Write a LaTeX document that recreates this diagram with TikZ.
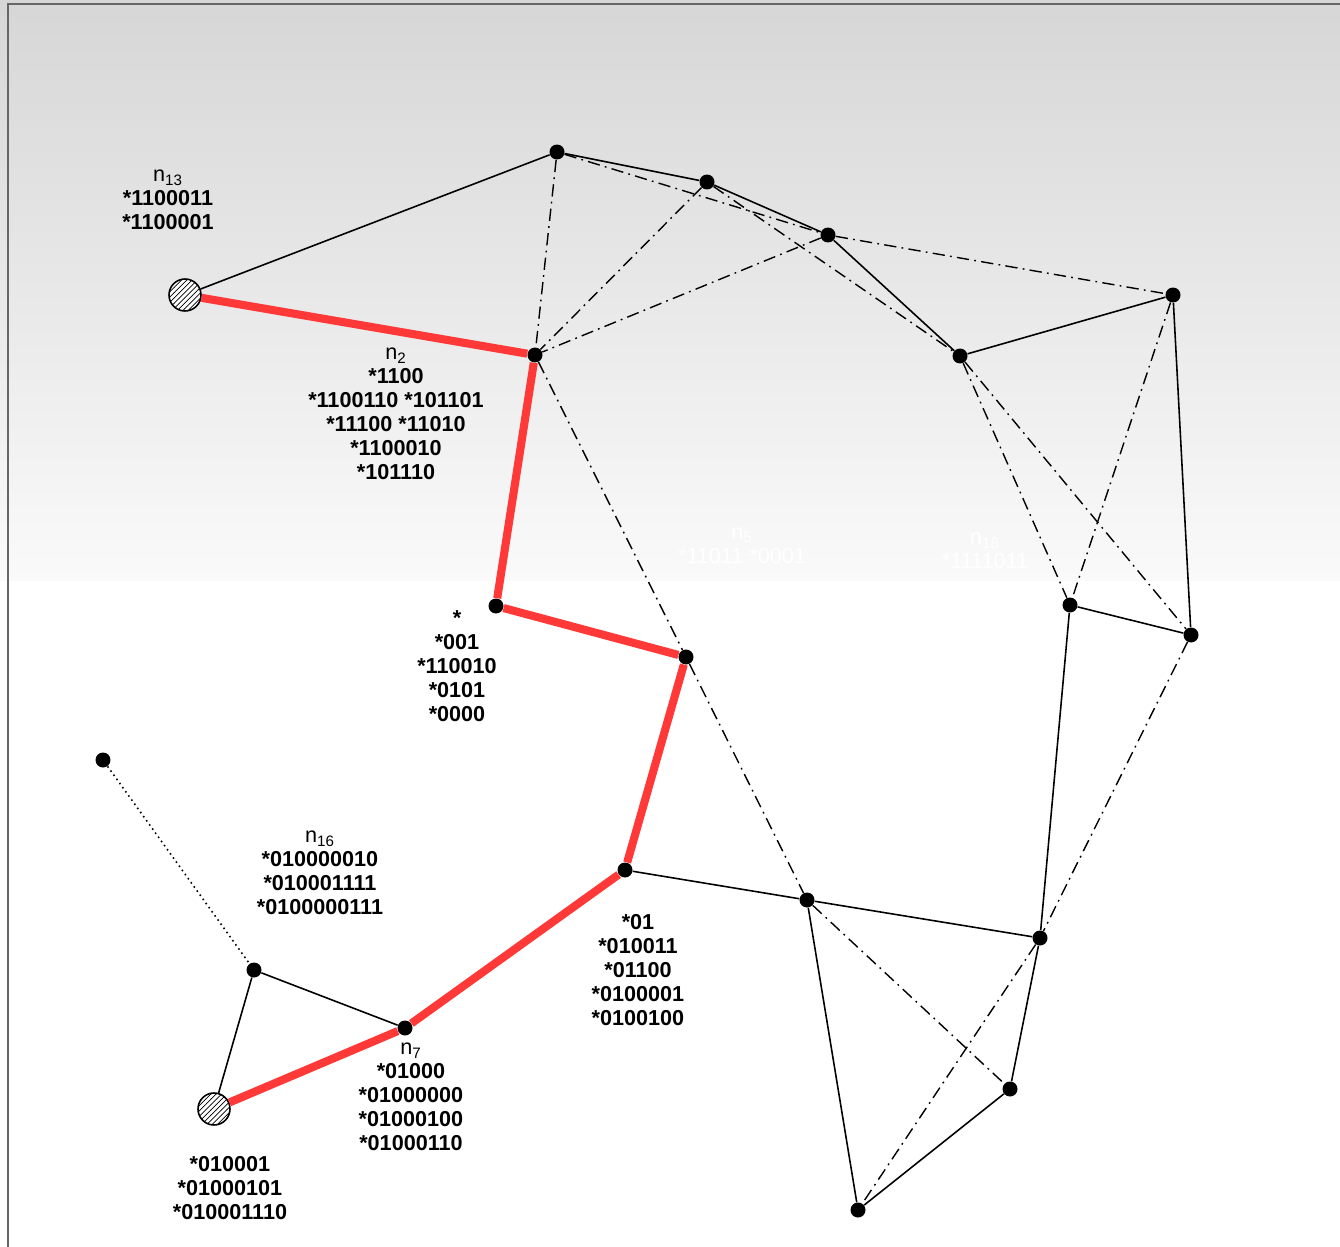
\documentclass[tikz,border=0pt]{standalone}
\usepackage{fontspec}
\setmainfont{Liberation Sans}
\usetikzlibrary{patterns}
\definecolor{routered}{RGB}{255,56,56}
\tikzstyle{vertex} = [circle, fill=black, inner sep=0pt, minimum size=0.30cm]
\tikzstyle{root} = [circle, draw, line width=0.9pt, preaction={fill=white}, pattern=north east lines, inner sep=0pt, minimum size=0.64cm]
\tikzstyle{edge} = [draw, line width=0.9pt]
\tikzstyle{link} = [draw, line width=0.8pt, dash pattern=on 7pt off 3pt on 1pt off 3pt]
\tikzstyle{route} = [draw, line width=4.6pt, color=routered]
\tikzstyle{tag} = [align=center, inner sep=0pt, font=\fontsize{12.3}{13.6}\selectfont\bfseries]
\newcommand{\nname}[1]{\textmd{n}\textsubscript{\textmd{#1}}}

\begin{document}
\begin{tikzpicture}[x=0.02cm, y=-0.02cm]
	\useasboundingbox (0,0) rectangle (1340,1247);
	% background and frame
	\shade[top color=black!16, bottom color=black!2] (0,0) rectangle (1340,580);
	\draw[black!60, line width=1.6pt] (8,1247) |- (1340,4);

	% vertices
	\node[root] (n13) at (185,295) {};
	\node[vertex] (a) at (557,152) {};
	\node[vertex] (b) at (707,182) {};
	\node[vertex] (c) at (828,235) {};
	\node[vertex] (d) at (1173,295) {};
	\node[vertex] (e) at (960,356) {};
	\node[vertex] (n2) at (535,355) {};
	\node[vertex] (f) at (496,606) {};
	\node[vertex] (g) at (686,657) {};
	\node[vertex] (h) at (1070,605) {};
	\node[vertex] (i) at (1191,635) {};
	\node[vertex] (j) at (625,870) {};
	\node[vertex] (k) at (807,900) {};
	\node[vertex] (l) at (1040,938) {};
	\node[vertex] (m) at (1010,1089) {};
	\node[vertex] (o) at (858,1210) {};
	\node[vertex] (n7) at (405,1028) {};
	\node[vertex] (n16) at (254,970) {};
	\node[vertex] (p) at (103,760) {};
	\node[root] (dst) at (214,1109) {};

	% solid links
	\path[edge] (a) -- (n13);
	\path[edge] (a) -- (b);
	\path[edge] (b) -- (c);
	\path[edge] (c) -- (e);
	\path[edge] (e) -- (d);
	\path[edge] (d) -- (i);
	\path[edge] (h) -- (i);
	\path[edge] (h) -- (l);
	\path[edge] (j) -- (k);
	\path[edge] (k) -- (l);
	\path[edge] (k) -- (o);
	\path[edge] (l) -- (m);
	\path[edge] (m) -- (o);
	\path[edge] (n16) -- (n7);
	\path[edge] (n16) -- (dst);
	\path[draw, line width=0.9pt, dotted] (p) -- (n16);

	% dash-dotted links
	\path[link] (a) -- (n2);
	\path[link] (a) -- (c);
	\path[link] (b) -- (n2);
	\path[link] (b) -- (e);
	\path[link] (c) -- (n2);
	\path[link] (c) -- (d);
	\path[link] (n2) -- (g);
	\path[link] (g) -- (k);
	\path[link] (d) -- (h);
	\path[link] (e) -- (h);
	\path[link] (e) -- (i);
	\path[link] (i) -- (l);
	\path[link] (l) -- (o);
	\path[link] (k) -- (m);

	% route
	\path[route] (n13) -- (n2);
	\path[route] (n2) -- (f);
	\path[route] (f) -- (g);
	\path[route] (g) -- (j);
	\path[route] (j) -- (n7);
	\path[route] (n7) -- (dst);

	% tables
	\node[tag] (t13) at (168,200) {\nname{13}\\*1100011\\*1100001};
	\node[tag] (t2) at (396,414) {\nname{2}\\*1100\\*1100110 *101101\\*11100 *11010\\*1100010\\*101110};
	\node[tag] (tf) at (457,666) {*\\*001\\*110010\\*0101\\*0000};
	\node[tag] (t16) at (320,873) {\nname{16}\\*010000010\\*010001111\\*0100000111};
	\node[tag] (tj) at (638,970) {*01\\*010011\\*01100\\*0100001\\*0100100};
	\node[tag] (t7) at (411,1097) {\nname{7}\\*01000\\*01000000\\*01000100\\*01000110};
	\node[tag] (tdst) at (230,1188) {*010001\\*01000101\\*010001110};
	\node[tag, text=white, font=\fontsize{12.3}{13.6}\selectfont] (t5) at (742,546) {\nname{5}\\*11011 *0001};
	\node[tag, text=white, font=\fontsize{12.3}{13.6}\selectfont] (t18) at (985,551) {\nname{18}\\*1111011};
\end{tikzpicture}
\end{document}
